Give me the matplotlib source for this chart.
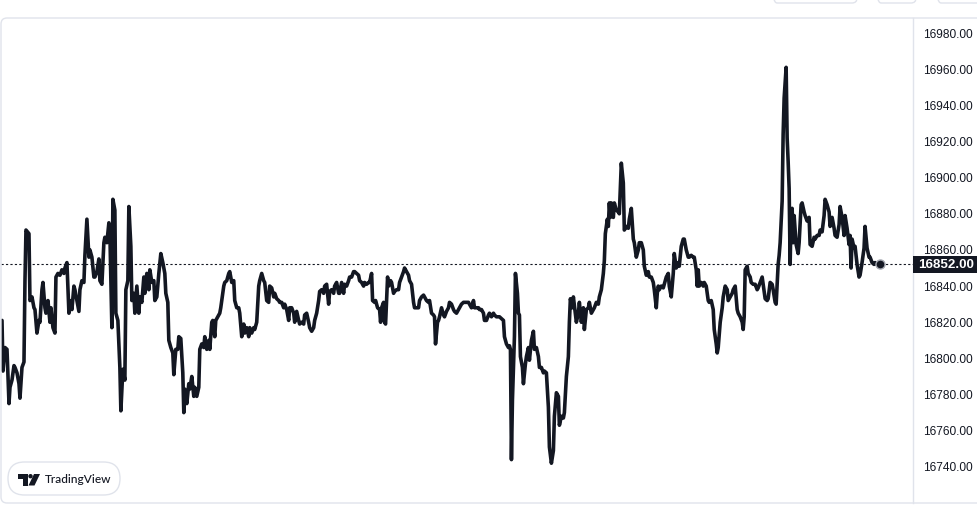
import matplotlib
matplotlib.use("Agg")
import matplotlib.pyplot as plt
from matplotlib.patches import FancyBboxPatch, Rectangle, Circle, Polygon
from matplotlib.lines import Line2D

# ---------------- data ----------------
t = [0, 1, 3, 5, 7, 8, 10, 12, 13, 15, 17, 18, 20, 22, 23, 24, 27, 28, 30, 32, 33, 35, 37, 38, 40, 41, 43, 44, 46, 48, 49, 51, 53, 54, 56, 58, 60, 62, 63, 65, 67, 68, 70, 72, 73, 75, 77, 78, 80, 82, 83, 85, 87, 88, 90, 92, 93, 95, 97, 98, 100, 102, 103, 105, 107, 108, 110, 111, 113, 114, 116, 118, 119, 121, 123, 124, 126, 127, 129, 130, 132, 133, 135, 137, 138,
     140, 142, 143, 145, 147, 148, 150, 152, 153, 155, 157, 159, 161, 163, 164, 166, 167, 169, 171, 172, 174, 176, 177, 179, 181, 182, 183, 185, 187, 188, 190, 192, 193, 195, 197, 198, 200, 202, 203, 205, 207, 208, 210, 211, 213, 214, 216, 218, 219, 222, 223, 225, 227, 228, 230, 232, 233, 235, 237, 238, 240, 242, 243, 245, 247, 248, 250, 252, 253, 255, 257, 258, 260, 262, 263, 265, 267, 268, 270, 272, 273, 275, 277, 278, 280, 282, 283, 285, 287, 288, 290,
     292, 293, 295, 297, 298, 300, 302, 303, 305, 307, 308, 310, 312, 313, 315, 317, 318, 320, 322, 323, 325, 327, 328, 330, 332, 333, 335, 337, 338, 340, 342, 343, 345, 347, 348, 350, 352, 353, 355, 357, 358, 360, 362, 363, 365, 367, 368, 370, 371, 373, 374, 376, 378, 379, 380, 382, 383, 384, 385, 386, 387, 389, 390, 392, 393, 395, 397, 398, 400, 402, 403, 405, 407, 408, 410, 412, 413, 415, 417, 418, 420,
     422, 423, 425, 427, 428, 430, 432, 433, 434, 436, 437, 438, 440, 442, 443, 445, 447, 448, 450, 452, 453, 455, 457, 458, 460, 462, 463, 465, 467, 468, 470, 472, 473, 475, 477, 478, 480, 482, 483, 485, 487, 488, 490, 492, 493, 495, 497, 498, 500, 502, 503, 505, 507, 508, 509, 510, 511, 513, 514, 516, 517, 518, 519, 521, 522, 524, 525, 527, 528, 530, 532, 533, 535, 537, 538, 540, 542, 543, 545, 547, 548, 550, 552, 553, 555, 557, 558, 560, 562, 563, 565, 567, 568, 569, 571, 572, 574,
     575, 577, 578, 580, 582, 583, 585, 587, 588, 590, 592, 593, 595, 597, 598, 600, 602, 603, 604, 606, 607, 608, 609, 610, 612, 613, 615, 617, 618, 620, 622, 623, 625, 627, 628, 630, 632, 633, 635, 637, 638, 640, 642, 643, 645, 647, 648, 650, 652, 653, 655, 656, 657, 658, 660, 662, 663, 665, 667, 668, 670, 672, 673, 675, 677, 678, 680, 682, 683, 685, 687, 688, 690, 692, 693, 695, 696, 697, 698, 700, 702, 703, 705, 707, 708, 710, 712, 713, 715, 716, 717, 719, 721, 722, 724, 726, 727, 729, 731, 732, 734, 736, 737, 739, 741, 742, 743, 744, 746, 747, 749, 750,
     752, 754, 756, 757, 759, 761, 762, 764, 766, 767, 769, 771, 772, 774, 775, 777, 778, 779, 781, 782, 783, 785, 786, 787, 788, 789, 790, 791, 792, 793, 795, 797, 798, 800, 801, 803, 804, 806, 808, 809, 811, 813, 814, 816, 818, 819, 821, 823, 824, 826, 828, 829, 831, 833, 834, 836, 838, 839, 841, 843, 844, 846, 848, 849, 850, 851, 853, 854, 856, 858, 859, 861, 863, 864, 866, 868, 869, 871, 873, 874, 876, 878, 879]

price = [16821, 16793, 16806, 16805, 16775, 16784, 16788, 16796, 16795, 16792, 16786, 16778, 16795, 16798, 16843, 16871, 16869, 16832, 16834, 16828, 16827, 16814, 16821, 16820, 16838, 16842, 16828, 16825, 16832, 16820, 16828, 16817, 16814, 16845, 16847, 16846, 16849, 16847, 16850, 16853, 16825, 16832, 16827, 16840, 16838, 16832, 16826, 16838, 16843, 16842, 16857, 16877, 16856, 16860, 16856, 16845, 16845, 16848, 16855, 16843, 16841, 16864, 16867, 16864, 16875, 16869, 16817, 16888, 16882, 16825, 16821, 16795, 16771, 16794, 16788, 16838, 16843, 16884, 16862, 16832, 16836, 16825, 16840, 16825, 16834,
         16831, 16845, 16836, 16847, 16838, 16849, 16842, 16843, 16832, 16834, 16847, 16858, 16853, 16847, 16836, 16831, 16810, 16806, 16803, 16791, 16805, 16805, 16812, 16811, 16792, 16770, 16783, 16775, 16786, 16783, 16790, 16779, 16784, 16779, 16784, 16805, 16808, 16806, 16812, 16805, 16810, 16805, 16820, 16821, 16812, 16821, 16823, 16825, 16828, 16840, 16842, 16843, 16847, 16848, 16842, 16843, 16832, 16828, 16828, 16825, 16812, 16819, 16814, 16817, 16812, 16817, 16814, 16817, 16816, 16820, 16840, 16843, 16847, 16843, 16842, 16832, 16831, 16840, 16839, 16834, 16836, 16833, 16832, 16831, 16831, 16828, 16830, 16827, 16821, 16828, 16828,
         16825, 16820, 16826, 16821, 16819, 16820, 16819, 16824, 16825, 16820, 16817, 16815, 16817, 16821, 16825, 16832, 16837, 16838, 16836, 16840, 16841, 16830, 16837, 16838, 16836, 16840, 16842, 16836, 16836, 16842, 16836, 16841, 16840, 16843, 16845, 16845, 16848, 16848, 16847, 16846, 16843, 16842, 16840, 16842, 16841, 16842, 16842, 16847, 16832, 16831, 16832, 16828, 16827, 16820, 16828, 16831, 16820, 16819, 16832, 16845, 16840, 16843, 16842, 16836, 16837, 16838, 16838, 16842, 16845, 16848, 16850, 16848, 16846, 16843, 16841, 16831, 16828, 16828, 16828, 16832, 16834,
         16835, 16834, 16832, 16831, 16832, 16825, 16824, 16823, 16808, 16820, 16821, 16823, 16828, 16824, 16823, 16826, 16828, 16831, 16830, 16827, 16826, 16825, 16827, 16828, 16830, 16831, 16831, 16831, 16831, 16830, 16828, 16832, 16828, 16828, 16828, 16827, 16827, 16825, 16821, 16821, 16824, 16825, 16823, 16825, 16824, 16823, 16823, 16823, 16822, 16821, 16812, 16808, 16806, 16807, 16805, 16744, 16777, 16812, 16847, 16836, 16825, 16824, 16801, 16795, 16786, 16797, 16801, 16806, 16799, 16810, 16815, 16805, 16806, 16801, 16795, 16795, 16792, 16793, 16792, 16773, 16751, 16742, 16749, 16768, 16781, 16779, 16763, 16768, 16767, 16770, 16790, 16801, 16820, 16833, 16828, 16834, 16825,
         16820, 16825, 16831, 16820, 16828, 16816, 16827, 16828, 16831, 16825, 16827, 16828, 16831, 16830, 16834, 16838, 16847, 16854, 16869, 16877, 16873, 16886, 16878, 16886, 16878, 16886, 16882, 16881, 16880, 16908, 16897, 16871, 16873, 16872, 16877, 16883, 16866, 16864, 16856, 16860, 16864, 16864, 16860, 16851, 16846, 16848, 16845, 16845, 16842, 16838, 16828, 16836, 16840, 16838, 16840, 16839, 16841, 16845, 16847, 16840, 16834, 16847, 16858, 16850, 16853, 16851, 16862, 16866, 16866, 16860, 16856, 16856, 16857, 16856, 16856, 16849, 16840, 16849, 16840, 16842, 16840, 16842, 16840, 16832, 16831, 16832, 16827, 16816, 16808, 16803, 16806, 16820, 16828, 16834, 16840, 16838, 16832, 16834, 16836, 16838, 16840, 16827, 16825, 16823, 16820, 16816, 16823, 16849, 16851, 16847, 16845, 16842,
         16841, 16841, 16838, 16839, 16842, 16845, 16841, 16833, 16832, 16833, 16842, 16841, 16838, 16831, 16830, 16852, 16857, 16864, 16887, 16924, 16944, 16961, 16922, 16909, 16894, 16852, 16881, 16883, 16864, 16879, 16863, 16858, 16864, 16885, 16886, 16881, 16879, 16876, 16878, 16863, 16862, 16867, 16866, 16868, 16868, 16871, 16870, 16879, 16888, 16885, 16881, 16873, 16878, 16872, 16868, 16867, 16874, 16884, 16878, 16868, 16879, 16872, 16863, 16868, 16850, 16866, 16861, 16862, 16852, 16845, 16846, 16853, 16861, 16873, 16861, 16856, 16856, 16853, 16852, 16853, 16852, 16852, 16852]

y_ticks = [16740, 16760, 16780, 16800, 16820, 16840, 16860, 16880, 16900, 16920, 16940, 16960, 16980]
y_tick_labels = ["16740.00", "16760.00", "16780.00", "16800.00", "16820.00", "16840.00", "16860.00",
                 "16880.00", "16900.00", "16920.00", "16940.00", "16960.00", "16980.00"]
last_price = 16852
last_label = "16852.00"
brand = "TradingView"

# ---------------- styling ----------------
W, H = 978, 514
LINE = "#131722"
BORDER = "#e0e3eb"
plt.rcParams["font.family"] = ["Liberation Sans", "DejaVu Sans"]

fig = plt.figure(figsize=(W / 100, H / 100), dpi=100)
fig.patch.set_facecolor("white")

ax_l, ax_r, ax_t, ax_b = 1, 913, 18, 503
ax = fig.add_axes([ax_l / W, 1 - ax_b / H, (ax_r - ax_l) / W, (ax_b - ax_t) / H])
ax.set_facecolor("white")
ax.plot(t, price, color=LINE, lw=2.6, solid_joinstyle="round", solid_capstyle="round", zorder=3)
ax.plot([t[-1]], [price[-1]], "o", ms=6.5, color=LINE, mec="#a3a6af", mew=1.0, zorder=4)
ax.axhline(last_price, color=LINE, lw=0.8, linestyle=(0, (2, 2)), zorder=2)

ax.set_xlim(-1, 912)
ax.set_ylim(16720.0, 16988.3)
ax.set_xticks([])
ax.yaxis.tick_right()
ax.set_yticks(y_ticks)
ax.set_yticklabels(y_tick_labels)
ax.tick_params(axis="y", length=0, pad=7.5, labelsize=8.6, labelcolor=LINE)
for s in ax.spines.values():
    s.set_visible(False)

def iy(py):
    return (H - py) / 100.0

# outer frame with rounded top-left corner
frame = FancyBboxPatch((ax_l / 100, iy(ax_b)), (W + 20 - ax_l) / 100, (ax_b - ax_t) / 100,
                       boxstyle="round,pad=0,rounding_size=0.06", transform=fig.dpi_scale_trans,
                       fill=False, ec=BORDER, lw=1.0, zorder=10)
fig.add_artist(frame)
fig.add_artist(Line2D([ax_r / W, ax_r / W], [1 - ax_b / H, 1 - ax_t / H], transform=fig.transFigure,
                      color=BORDER, lw=1.0, zorder=10))

# top buttons (only their bottoms are visible)
for x0, x1 in [(772, 857), (876, 916), (936, 990)]:
    fig.add_artist(FancyBboxPatch((x0 / 100, iy(3)), (x1 - x0) / 100, 0.3,
                                  boxstyle="round,pad=0,rounding_size=0.05", transform=fig.dpi_scale_trans,
                                  fill=False, ec=BORDER, lw=1.0, zorder=10))

# last price label box
fig.add_artist(Rectangle((ax_r / 100, iy(272.5)), (W - ax_r) / 100, 17 / 100, transform=fig.dpi_scale_trans,
                         fc=LINE, ec="none", zorder=11))
fig.text(946.5 / W, 1 - 264.5 / H, last_label, color="white", fontsize=9.6, fontweight="bold",
         ha="center", va="center", zorder=12)

# TradingView badge
fig.add_artist(FancyBboxPatch((8 / 100, iy(495)), 112 / 100, 33 / 100,
                              boxstyle="round,pad=0,rounding_size=0.165", transform=fig.dpi_scale_trans,
                              fc="white", ec=BORDER, lw=1.0, zorder=12))
tr = fig.dpi_scale_trans
fig.add_artist(Rectangle((18 / 100, iy(478.5)), 9.5 / 100, 4.5 / 100, transform=tr, fc=LINE, ec="none", zorder=13))
fig.add_artist(Rectangle((23 / 100, iy(485.5)), 4.5 / 100, 11.5 / 100, transform=tr, fc=LINE, ec="none", zorder=13))
fig.add_artist(Circle((30.5 / 100, iy(476.2)), 2.2 / 100, transform=tr, fc=LINE, ec="none", zorder=13))
fig.add_artist(Polygon([(34 / 100, iy(474)), (40 / 100, iy(474)), (34.5 / 100, iy(485.5)), (28.5 / 100, iy(485.5))],
                       closed=True, transform=tr, fc=LINE, ec="none", zorder=13))
fig.text(45 / W, 1 - 479.5 / H, brand, color=LINE, fontsize=8.6, family=["Lato", "DejaVu Sans"],
         fontweight="medium", ha="left", va="center", zorder=13)

fig.savefig("out.png", dpi=100, facecolor="white")
